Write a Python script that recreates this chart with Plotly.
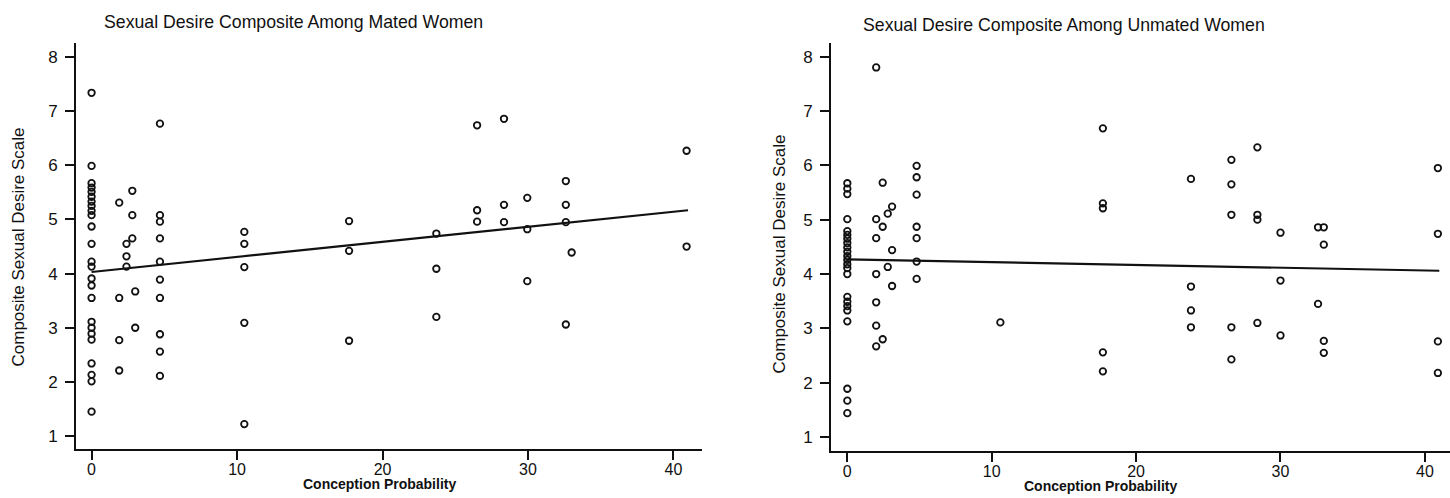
import plotly.graph_objects as go

# ---------------- data ----------------
x_ticks = [0, 10, 20, 30, 40]
y_ticks = [1, 2, 3, 4, 5, 6, 7, 8]

title_left = "Sexual Desire Composite Among Mated Women"
title_right = "Sexual Desire Composite Among Unmated Women"
x_title = "Conception Probability"
y_title = "Composite Sexual Desire Scale"

# Mated women: (conception probability, composite score)
mated_x = (
    [0] * 25
    + [1.9] * 4 + [2.4] * 3 + [2.8] * 3 + [3.0] * 2
    + [4.7] * 10 + [10.5] * 5 + [17.7] * 3 + [23.7] * 3
    + [26.5] * 3 + [28.35] * 3 + [29.95] * 3 + [32.6] * 4
    + [33.0] + [40.9] * 2
)
mated_y = (
    [7.34, 5.99, 5.67, 5.59, 5.51, 5.42, 5.33, 5.25, 5.16, 5.08, 4.87, 4.55,
     4.22, 4.13, 3.91, 3.78, 3.55, 3.11, 3.0, 2.89, 2.78, 2.34, 2.13, 2.01, 1.45]
    + [5.31, 3.55, 2.77, 2.21]
    + [4.55, 4.32, 4.13]
    + [5.53, 5.08, 4.65]
    + [3.67, 3.0]
    + [6.77, 5.08, 4.96, 4.65, 4.22, 3.89, 3.55, 2.88, 2.56, 2.11]
    + [4.77, 4.55, 4.12, 3.09, 1.22]
    + [4.97, 4.42, 2.76]
    + [4.74, 4.09, 3.2]
    + [6.74, 5.17, 4.96]
    + [6.86, 5.27, 4.95]
    + [5.40, 4.82, 3.86]
    + [5.71, 5.27, 4.95, 3.06]
    + [4.39]
    + [6.27, 4.5]
)
mated_fit_x = [0, 41]
mated_fit_y = [4.03, 5.17]

# Unmated women
unmated_x = (
    [0] * 23
    + [2.0] * 7 + [2.45] * 3 + [2.8] * 2 + [3.1] * 3 + [4.8] * 7
    + [10.6] + [17.7] * 5 + [23.8] * 4 + [26.6] * 5 + [28.4] * 4
    + [30.0] * 3 + [32.6] * 2 + [33.0] * 4 + [40.9] * 4
)
unmated_y = (
    [5.67, 5.57, 5.47, 5.01, 4.79, 4.72, 4.65, 4.57, 4.49, 4.41, 4.33, 4.26,
     4.18, 4.11, 4.0, 3.58, 3.49, 3.41, 3.33, 3.13, 1.89, 1.67, 1.44]
    + [7.80, 5.01, 4.66, 4.0, 3.48, 3.05, 2.67]
    + [5.68, 4.87, 2.80]
    + [5.11, 4.13]
    + [5.24, 4.44, 3.78]
    + [5.99, 5.78, 5.46, 4.87, 4.66, 4.23, 3.91]
    + [3.11]
    + [6.68, 5.30, 5.21, 2.56, 2.21]
    + [5.75, 3.77, 3.33, 3.02]
    + [6.10, 5.65, 5.09, 3.02, 2.43]
    + [6.33, 5.09, 5.0, 3.10]
    + [4.76, 3.88, 2.87]
    + [4.86, 3.45]
    + [4.86, 4.54, 2.77, 2.55]
    + [5.95, 4.74, 2.76, 2.18]
)
unmated_fit_x = [0, 41]
unmated_fit_y = [4.27, 4.06]

# ---------------- figure ----------------
W, H = 1450, 498
FONT = "Arial, 'Liberation Sans', Helvetica, sans-serif"
INK = "#111111"

marker = dict(symbol="circle-open", size=6.5, color=INK, line=dict(width=1.8, color=INK))

fig = go.Figure()
fig.add_trace(go.Scatter(x=mated_x, y=mated_y, mode="markers", marker=marker,
                         xaxis="x", yaxis="y", hoverinfo="x+y"))
fig.add_trace(go.Scatter(x=mated_fit_x, y=mated_fit_y, mode="lines",
                         line=dict(color=INK, width=2.2), xaxis="x", yaxis="y"))
fig.add_trace(go.Scatter(x=unmated_x, y=unmated_y, mode="markers", marker=marker,
                         xaxis="x2", yaxis="y2", hoverinfo="x+y"))
fig.add_trace(go.Scatter(x=unmated_fit_x, y=unmated_fit_y, mode="lines",
                         line=dict(color=INK, width=2.2), xaxis="x2", yaxis="y2"))

axis_common = dict(showline=True, linewidth=2, linecolor=INK, ticks="outside",
                   ticklen=9, tickwidth=1.5, tickcolor=INK, showgrid=False,
                   zeroline=False, fixedrange=True)

fig.update_layout(
    width=W, height=H,
    margin=dict(l=0, r=0, t=0, b=0),
    paper_bgcolor="white", plot_bgcolor="white",
    showlegend=False,
    font=dict(family=FONT, color=INK),
    xaxis=dict(domain=[76 / W, 702 / W], range=[-1.07, 41.96], anchor="y",
               tickvals=x_ticks, tickfont=dict(size=16), ticklabelstandoff=-4,
               **axis_common),
    yaxis=dict(domain=[1 - 449 / H, 1 - 43 / H], range=[0.76, 8.26], anchor="x",
               tickvals=y_ticks, tickfont=dict(size=17), ticklabelstandoff=4,
               **axis_common),
    xaxis2=dict(domain=[831 / W, 1.0], range=[-1.13, 41.74], anchor="y2",
                tickvals=x_ticks, tickfont=dict(size=16), ticklabelstandoff=-4,
                **axis_common),
    yaxis2=dict(domain=[1 - 450.7 / H, 1 - 43 / H], range=[0.75, 8.25], anchor="x2",
                tickvals=y_ticks, tickfont=dict(size=17), ticklabelstandoff=4,
                **axis_common),
)

def ann(text, xpx, ypx, size, xanchor="center", angle=0, bold=False):
    fig.add_annotation(
        text=f"<b>{text}</b>" if bold else text,
        xref="paper", yref="paper", x=xpx / W, y=1 - ypx / H,
        xanchor=xanchor, yanchor="middle", showarrow=False, textangle=angle,
        font=dict(size=size, family=FONT, color=INK),
    )

ann(title_left, 102, 22, 17.7, xanchor="left")
ann(title_right, 861, 25, 17.7, xanchor="left")
ann(y_title, 18.5, 247, 17, angle=-90)
ann(y_title, 778.5, 254, 17, angle=-90)
ann(x_title, 379, 484, 14, bold=True)
ann(x_title, 1100, 486, 14, bold=True)

fig.write_html(
    "out.html",
    config={"displayModeBar": False},
    post_script="document.body.style.margin='0px';document.body.style.overflow='hidden';",
)
